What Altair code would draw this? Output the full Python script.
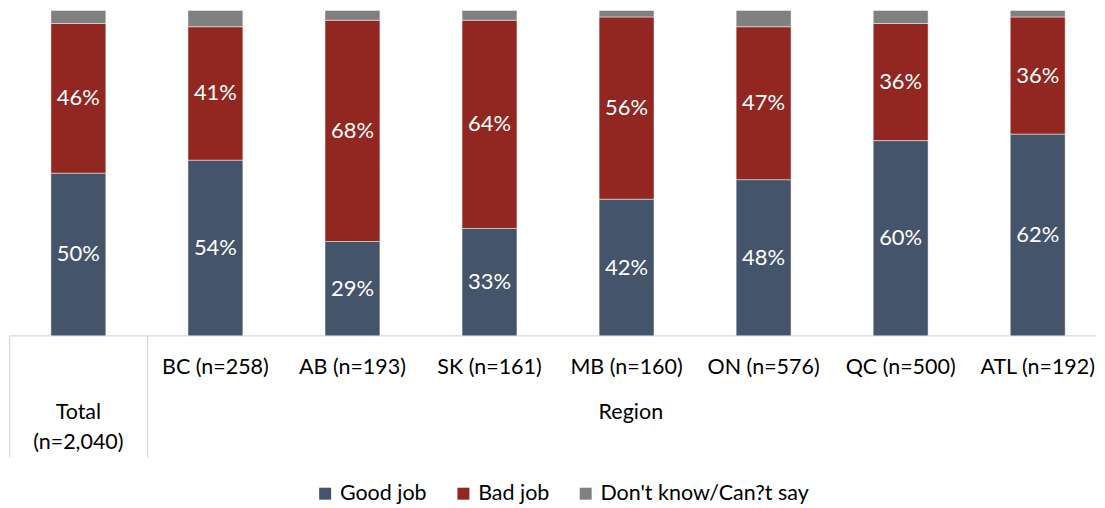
import altair as alt
import pandas as pd

categories = ["Total (n=2,040)", "BC (n=258)", "AB (n=193)", "SK (n=161)",
              "MB (n=160)", "ON (n=576)", "QC (n=500)", "ATL (n=192)"]
good = [50, 54, 29, 33, 42, 48, 60, 62]
bad = [46, 41, 68, 64, 56, 47, 36, 36]
dk = [4, 5, 3, 3, 2, 5, 4, 2]
series = ["Good job", "Bad job", "Don't know/Can?t say"]
colors = ["#44546A", "#922620", "#808080"]
group_label = "Region"

rows = []
for i, c in enumerate(categories):
    for j, (s, v) in enumerate(zip(series, [good[i], bad[i], dk[i]])):
        rows.append({"cat": c, "series": s, "value": v, "order": j,
                     "label": f"{v}%" if j < 2 else ""})
df = pd.DataFrame(rows)
cats_df = pd.DataFrame({"cat": categories})

FONT = "Lato"
W, H = 1089, 326

xscale = alt.Scale(domain=categories, paddingInner=0.5994, paddingOuter=0.2655,
                   align=0.576, round=False)
x = alt.X("cat:N", scale=xscale, axis=None, sort=categories)

bars = alt.Chart(df).mark_bar(stroke="#ffffff", strokeWidth=0.8, strokeOpacity=0.6).encode(
    x=x,
    y=alt.Y("value:Q", stack="zero", scale=alt.Scale(domain=[0, 100]), axis=None),
    color=alt.Color("series:N", sort=series,
                    scale=alt.Scale(domain=series, range=colors),
                    legend=alt.Legend(title=None, orient="none", direction="horizontal",
                                      legendX=306, legendY=473, symbolType="square",
                                      symbolSize=144, symbolStrokeWidth=0,
                                      labelFont=FONT, labelFontSize=21.5, labelColor="#000000",
                                      columnPadding=25.5, labelLimit=400)),
    order=alt.Order("order:Q"),
)

labels = alt.Chart(df).transform_filter("datum.order < 2").transform_stack(
    stack="value", groupby=["cat"], as_=["y0", "y1"], sort=[alt.SortField("order")]
).transform_calculate(mid="(datum.y0 + datum.y1) / 2").mark_text(
    font=FONT, fontSize=22, color="#ffffff", baseline="middle"
).encode(x=x, y=alt.Y("mid:Q", scale=alt.Scale(domain=[0, 100])), text="label:N")

region_labels = alt.Chart(cats_df).transform_filter(
    alt.FieldOneOfPredicate(field="cat", oneOf=categories[1:])
).mark_text(font=FONT, fontSize=21.5, color="#000000", baseline="middle").encode(
    x=x, y=alt.value(358), text="cat:N")

total_label = alt.Chart(cats_df).transform_filter(
    alt.FieldEqualPredicate(field="cat", equal=categories[0])
).mark_text(font=FONT, fontSize=21.5, color="#000000", baseline="middle",
            lineBreak=" ", lineHeight=30).encode(
    x=x, y=alt.value(403), text="cat:N")

region_title = alt.Chart(pd.DataFrame({"t": [group_label]})).mark_text(
    font=FONT, fontSize=21.5, color="#000000", baseline="middle").encode(
    x=alt.value(623), y=alt.value(403), text="t:N")

hline = alt.Chart(pd.DataFrame({"a": [0]})).mark_rule(color="#d9d9d9", strokeWidth=1.2).encode(
    x=alt.value(0), x2=alt.value(W), y=alt.value(H))
vline1 = alt.Chart(pd.DataFrame({"a": [0]})).mark_rule(color="#d9d9d9", strokeWidth=1.2).encode(
    x=alt.value(0.6), y=alt.value(H), y2=alt.value(448))
vline2 = alt.Chart(pd.DataFrame({"a": [0]})).mark_rule(color="#d9d9d9", strokeWidth=1.2).encode(
    x=alt.value(139), y=alt.value(H), y2=alt.value(448))

chart = alt.layer(hline, vline1, vline2, bars, labels, region_labels, total_label, region_title).properties(
    width=W, height=H,
    padding={"left": 0, "top": 1, "right": 0, "bottom": 0},
).configure_view(stroke=None)

chart.save("out.html", embed_options={"renderer": "svg", "actions": False})
